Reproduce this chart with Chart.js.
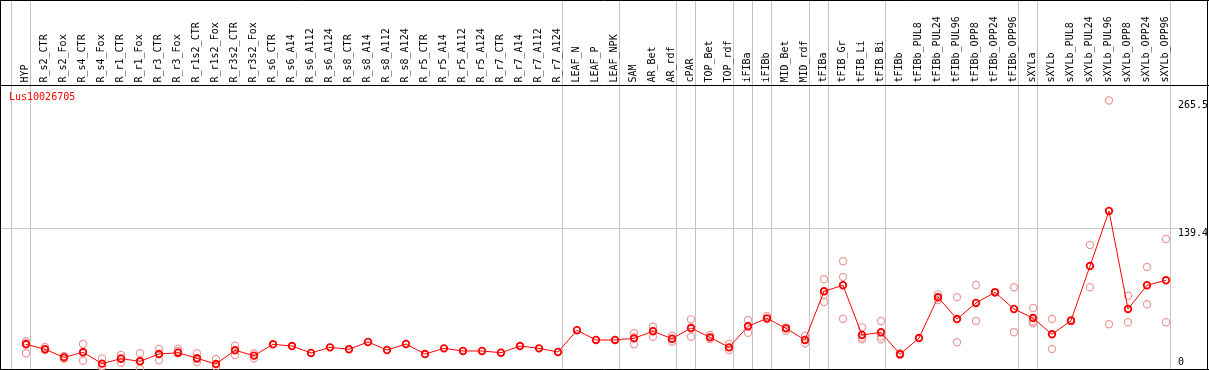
<!DOCTYPE html>
<html>
<head>
<meta charset="utf-8">
<script src="https://cdn.jsdelivr.net/npm/chart.js@4/dist/chart.umd.min.js"></script>
<style>
  html, body { margin: 0; padding: 0; background: #fff; }
  #wrap { width: 1209px; height: 370px; position: relative; }
</style>
</head>
<body>
<div id="wrap"><canvas id="chart"></canvas></div>
<script>
// gene name shown in the corner
const GENE = 'Lus10026705';

const categories = [
  'HYP','R_s2_CTR','R_s2_Fox','R_s4_CTR','R_s4_Fox','R_r1_CTR','R_r1_Fox','R_r3_CTR','R_r3_Fox',
  'R_r1s2_CTR','R_r1s2_Fox','R_r3s2_CTR','R_r3s2_Fox',
  'R_s6_CTR','R_s6_A14','R_s6_A112','R_s6_A124','R_s8_CTR','R_s8_A14','R_s8_A112','R_s8_A124',
  'R_r5_CTR','R_r5_A14','R_r5_A112','R_r5_A124','R_r7_CTR','R_r7_A14','R_r7_A112','R_r7_A124',
  'LEAF_N','LEAF_P','LEAF_NPK','SAM','AR_Bet','AR_rdf','cPAR','TOP_Bet','TOP_rdf','iFIBa','iFIBb',
  'MID_Bet','MID_rdf','tFIBa','tFIB_Gr','tFIB_Li','tFIB_Bi','tFIBb',
  'tFIBb_PUL8','tFIBb_PUL24','tFIBb_PUL96','tFIBb_OPP8','tFIBb_OPP24','tFIBb_OPP96',
  'sXYLa','sXYLb','sXYLb_PUL8','sXYLb_PUL24','sXYLb_PUL96','sXYLb_OPP8','sXYLb_OPP24','sXYLb_OPP96'
];

// mean expression per sample
const means = [
  24.4, 19.5, 11.5, 16.5, 5.3, 10.2, 7.6, 14.8, 16.1,
  10.6, 4.9, 18.5, 13.2,
  24.4, 22.7, 15.8, 21.4, 19.5, 26.7, 18.8, 24.7,
  14.8, 20.4, 17.8, 17.8, 16.1, 22.7, 20.4, 16.8,
  38.3, 28.7, 28.7, 30.3, 37.3, 30.0, 40.5, 31.3, 21.4, 42.2, 50.1,
  40.2, 28.7, 76.8, 82.8, 33.6, 36.3, 14.6,
  30.6, 70.9, 49.4, 65.3, 75.8, 59.3,
  50.4, 34.3, 47.8, 101.8, 156.2, 59.3, 82.8, 87.7
];

// replicate values (null = no replicate drawn)
const repA = [
  27.5, 21.7, 12.9, 24.7, 10.5, 13.8, 15.5, 19.8, 19.8,
  15.5, 9.9, 23.0, 15.5,
  null, null, null, null, null, null, null, null,
  null, null, null, null, null, null, null, null,
  null, null, null, 35.3, 41.8, 32.9, 49.1, 33.6, 24.7, 48.4, 52.4,
  41.2, 32.9, 88.7, 106.5, 41.2, 47.5, 15.5,
  null, 73.8, 70.9, 83.0, 75.5, 80.8,
  60.3, 49.4, 48.5, 122.6, 265.5, 72.5, 100.8, 128.5
];
const repB = [
  15.5, 18.8, 10.2, 8.2, 3.0, 6.2, 0.2, 8.6, 15.5,
  6.9, 2.3, 13.8, 10.6,
  null, null, null, null, null, null, null, null,
  null, null, null, null, null, null, null, null,
  null, null, null, 24.4, 31.9, 27.0, 31.9, 29.7, 18.8, 35.9, 49.1,
  37.9, 25.4, 66.2, 91.0, 29.4, 29.4, 14.0,
  null, 68.2, 26.4, 47.5, 76.2, 36.3,
  45.2, 19.8, 47.2, 80.8, 44.2, 46.2, 64.0, 46.2
];
const repC = [
  25.5, 19.8, 11.5, 16.5, 2.0, 10.8, 7.6, 14.8, 17.5,
  9.8, null, null, null,
  null, null, null, null, null, null, null, null,
  null, null, null, null, null, null, null, null,
  null, null, null, 31.5, 37.5, 29.5, 40.5, null, null, 42.2, null,
  null, 28.7, 73.2, 49.7, 31.0, 32.0, null,
  null, null, null, null, null, null,
  47.0, null, null, null, null, null, null, null
];

const yTicks = [0, 139.4, 265.5];
// groups end after these indices (vertical separators)
const groupEnds = [-1, 0, 28, 31, 34, 35, 37, 38, 39, 41, 42, 45, 52, 53, 60];

const GRID = '#c4c4c4';
const RED  = '#ff0000';
const PINK = '#ee9a9a';
const FONT = "10px 'DejaVu Sans Mono', monospace";

const meanPts = means.map((v, i) => ({ x: i, y: v }));
const repPts = [];
[repA, repB, repC].forEach(arr => arr.forEach((v, i) => {
  if (v !== null) repPts.push({ x: i, y: v });
}));

const frame = {
  id: 'frame',
  beforeDatasetsDraw(chart) {
    const { ctx, scales: { x, y }, chartArea } = chart;
    const W = chart.width;
    ctx.save();
    ctx.lineWidth = 1;
    ctx.strokeStyle = GRID;
    // group separators, full height
    groupEnds.forEach(i => {
      const px = Math.round(x.getPixelForValue(i) + 4.2) + 0.5;
      ctx.beginPath();
      ctx.moveTo(px, 0);
      ctx.lineTo(px, chartArea.bottom);
      ctx.stroke();
    });
    // mid grid line
    const gy = Math.round(y.getPixelForValue(yTicks[1])) + 0.5;
    ctx.beginPath();
    ctx.moveTo(0, gy);
    ctx.lineTo(chartArea.right, gy);
    ctx.stroke();

    // black frame
    ctx.strokeStyle = '#000';
    ctx.beginPath();
    ctx.moveTo(0.5, 0); ctx.lineTo(0.5, chartArea.bottom + 1);
    ctx.moveTo(0, 0.5); ctx.lineTo(W, 0.5);
    ctx.moveTo(0, chartArea.top + 0.5); ctx.lineTo(W, chartArea.top + 0.5);
    ctx.moveTo(0, chartArea.bottom + 0.5); ctx.lineTo(W, chartArea.bottom + 0.5);
    ctx.moveTo(W - 1.5, 0); ctx.lineTo(W - 1.5, chartArea.bottom + 1);
    ctx.stroke();
    ctx.restore();
  },
  afterDraw(chart) {
    const { ctx, scales: { x, y }, chartArea } = chart;
    ctx.save();
    ctx.font = FONT;
    ctx.fillStyle = '#000';
    // sample names, rotated
    categories.forEach((name, i) => {
      ctx.save();
      ctx.translate(x.getPixelForValue(i) - 1, chartArea.top - 2.5);
      ctx.rotate(-Math.PI / 2);
      ctx.textAlign = 'left';
      ctx.textBaseline = 'middle';
      ctx.fillText(name, 0, 0);
      ctx.restore();
    });
    // value labels on the right
    ctx.textAlign = 'left';
    ctx.textBaseline = 'middle';
    yTicks.forEach(v => {
      const py = Math.min(y.getPixelForValue(v) + 5, chartArea.bottom - 7);
      ctx.fillText(String(v), chartArea.right, py);
    });
    // gene id
    ctx.fillStyle = RED;
    ctx.textBaseline = 'middle';
    ctx.fillText(GENE, 9, chartArea.top + 12.5);
    ctx.restore();
  }
};

new Chart(document.getElementById('chart'), {
  type: 'line',
  data: {
    datasets: [
      {
        data: meanPts,
        borderColor: RED,
        borderWidth: 1,
        pointRadius: 3.3,
        pointBorderWidth: 1.8,
        pointBorderColor: RED,
        pointBackgroundColor: 'rgba(0,0,0,0)',
        tension: 0,
        clip: false,
      },
      {
        data: repPts,
        showLine: false,
        pointRadius: 3.6,
        pointBorderWidth: 1.2,
        pointBorderColor: PINK,
        pointBackgroundColor: 'rgba(0,0,0,0)',
        clip: false,
      },
    ],
  },
  options: {
    responsive: true,
    maintainAspectRatio: false,
    animation: false,
    layout: { autoPadding: false, padding: { top: 85, left: 1, right: 31, bottom: 1 } },
    plugins: { legend: { display: false }, tooltip: { enabled: false } },
    scales: {
      x: { type: 'linear', min: -1.3158, max: 60.632, display: false },
      y: { type: 'linear', min: 0, max: 280.8, display: false },
    },
  },
  plugins: [frame],
});
</script>
</body>
</html>
